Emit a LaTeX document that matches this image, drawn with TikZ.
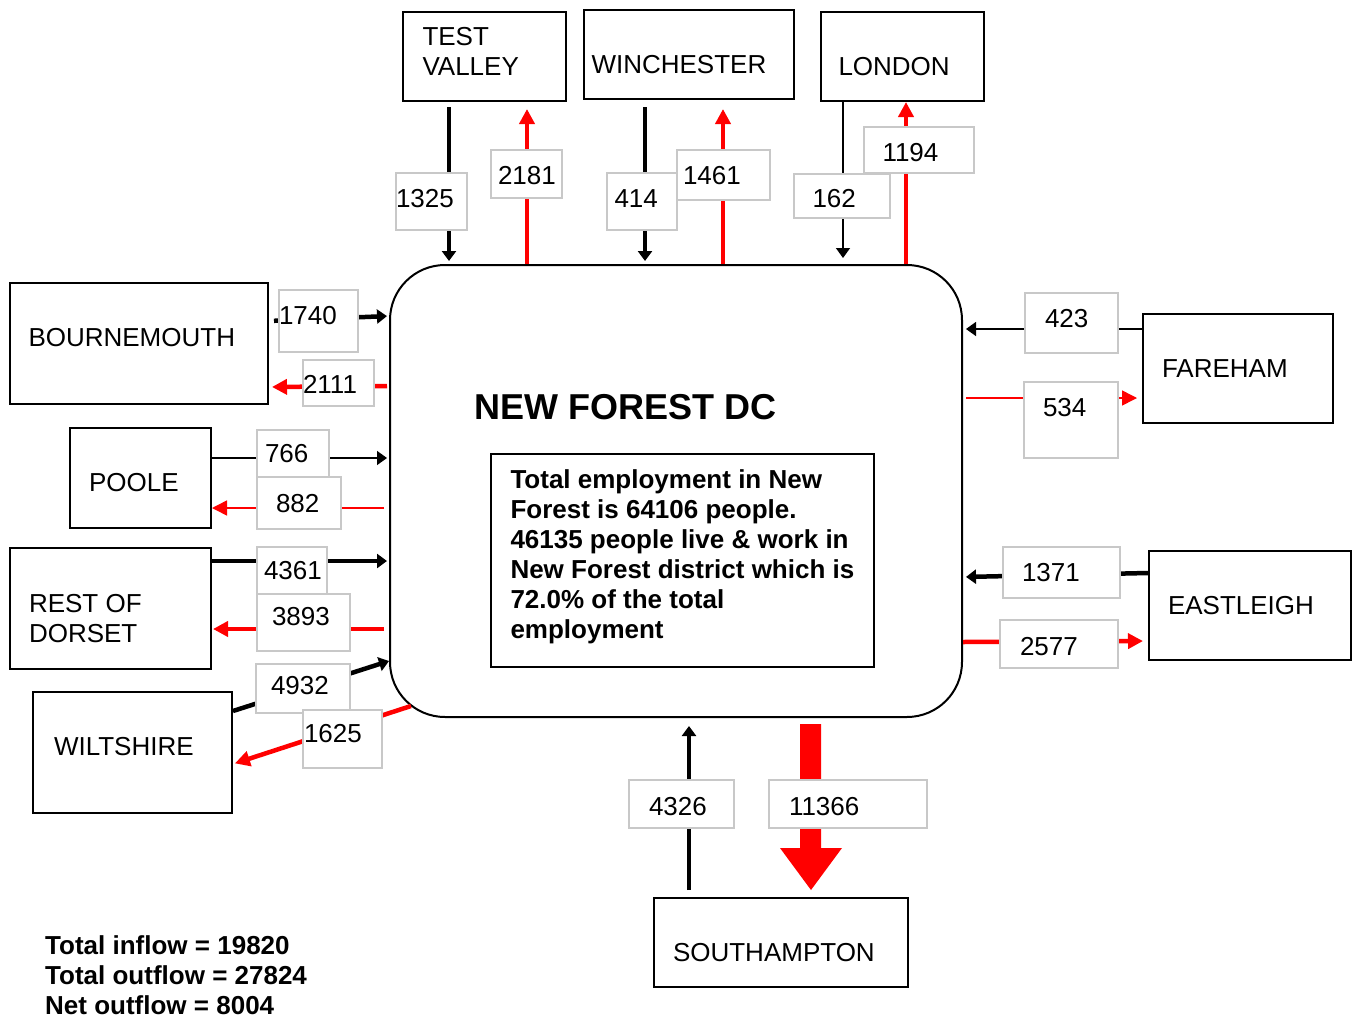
\documentclass[tikz,border=0pt]{standalone}
\usepackage{fontspec}
\setmainfont{Liberation Sans}
\usetikzlibrary{arrows.meta}
\definecolor{labgray}{RGB}{200,200,200}
% style, name, x1, y1, x2, y2, text pad, baseline, text
\newcommand\bx[9]{\node[#1, anchor=north west, inner sep=0pt, text height={(#8-#4)}, text depth={(#6-#8)}] (#2) at (#3,#4) {\makebox[\dimexpr#5pt-#3pt\relax][l]{\hspace*{#7pt}#9}};}
\tikzset{
 mainbox/.style={draw=black, line width=2pt, fill=white, font=\fontsize{26}{30}\selectfont},
 numbox/.style={draw=labgray, line width=2pt, fill=white, font=\fontsize{26}{30}\selectfont},
 thickblk/.style={line width=4.5pt, -{Triangle[length=10pt,width=14pt]}},
 thinblk/.style={line width=1.5pt, -{Triangle[length=10pt,width=14pt]}},
 thickred/.style={red, line width=4.5pt, -{Triangle[length=15pt,width=15pt]}},
 thinred/.style={red, line width=1.5pt, -{Triangle[length=15pt,width=15pt]}},
}
\begin{document}
\begin{tikzpicture}[x=1pt,y=-1pt]
\useasboundingbox (0,0) rectangle (1353,1018);
% central district
\node[draw, line width=2pt, rounded corners=55pt, minimum width=572pt, minimum height=452pt, inner sep=0pt] (nf) at (676,491) {};
\node[anchor=base west, inner sep=0pt, font=\fontsize{36}{40}\selectfont\bfseries] (title) at (474,419) {NEW FOREST DC};
\bx{mainbox}{txt}{490}{453}{873}{666}{19.5}{487}{\bfseries\begin{tabular}[t]{@{}l@{}}Total employment in New\\Forest is 64106 people.\\46135 people live \& work in\\New Forest district which is\\72.0\% of the total\\employment\end{tabular}}
% surrounding areas
\bx{mainbox}{tv}{402}{11}{565}{100}{19.5}{44}{\begin{tabular}[t]{@{}l@{}}TEST\\VALLEY\end{tabular}}
\bx{mainbox}{wi}{583}{9}{793}{98}{7.5}{72}{WINCHESTER}
\bx{mainbox}{lo}{820}{11}{983}{100}{17.5}{74}{LONDON}
\bx{mainbox}{bm}{9}{282}{267}{403}{18.5}{345}{BOURNEMOUTH}
\bx{mainbox}{po}{69}{427}{210}{527}{19}{490}{POOLE}
\bx{mainbox}{rd}{9}{547}{210}{668}{19}{611}{\begin{tabular}[t]{@{}l@{}}REST OF\\DORSET\end{tabular}}
\bx{mainbox}{wt}{32}{691}{231}{812}{21}{754}{WILTSHIRE}
\bx{mainbox}{fa}{1142}{313}{1332}{422}{19}{376}{FAREHAM}
\bx{mainbox}{ea}{1148}{550}{1350}{659}{19}{613}{EASTLEIGH}
\bx{mainbox}{so}{653}{897}{907}{986}{19}{960}{SOUTHAMPTON}
% top flows
\draw[thickblk, shorten <=5pt, shorten >=3pt] (tv.south -| 449,0) -- (nf.north -| 449,0);
\draw[thickred, shorten >=7pt] (nf.north -| 527,0) -- (tv.south -| 527,0);
\draw[thickblk, shorten <=7pt, shorten >=3pt] (wi.south -| 645,0) -- (nf.north -| 645,0);
\draw[thickred, shorten >=9pt] (nf.north -| 723,0) -- (wi.south -| 723,0);
\draw[thinblk, shorten >=6pt] (lo.south -| 843,0) -- (nf.north -| 843,0);
\draw[thickred] (nf.north -| 906,0) -- (lo.south -| 906,0);
% left flows
\draw[thickblk, shorten <=5pt, shorten >=2pt] (bm.east |- 0,321) -- (nf.west |- 0,316);
\draw[thickred, shorten <=2pt, shorten >=3pt] (nf.west |- 0,386) -- (bm.east |- 0,387);
\draw[thinblk, shorten >=2pt] (po.east |- 0,458) -- (nf.west |- 0,458);
\draw[thinred, shorten <=5pt] (nf.west |- 0,508) -- (po.east |- 0,508);
\draw[thickblk, shorten >=2pt] (rd.east |- 0,561) -- (nf.west |- 0,561);
\draw[thickred, shorten <=5pt, shorten >=1pt] (nf.west |- 0,629) -- (rd.east |- 0,629);
\draw[thickblk] (wt.east |- 0,711) -- (nf.west |- 0,661);
\draw[thickred, shorten >=2pt] ([xshift=22pt,yshift=12pt]nf.south west) -- (wt.east |- 0,764);
% right flows
\draw[thinblk, shorten >=3pt] (fa.west |- 0,329) -- (nf.east |- 0,329);
\draw[thinred, shorten <=3pt, shorten >=5pt] (nf.east |- 0,398) -- (fa.west |- 0,398);
\draw[thickblk, shorten >=3pt] (ea.west |- 0,573) -- (nf.east |- 0,577);
\draw[thickred, shorten >=5pt] (nf.east |- 0,642) -- (ea.west |- 0,641);
% bottom flows
\draw[thickblk, shorten <=7pt, shorten >=8pt] (so.north -| 689,0) -- (nf.south -| 689,0);
\fill[red] (800,724) -- (821,724) -- (821,848) -- (842,848) -- (811,890) -- (780,848) -- (800,848) -- cycle;
% flow labels
\bx{numbox}{l1325}{395}{172}{466}{229}{0}{206}{1325}
\bx{numbox}{l2181}{490}{149}{561}{197}{7}{183}{2181}
\bx{numbox}{l414}{606}{172}{676}{229}{7.5}{206}{414}
\bx{numbox}{l1461}{676}{149}{769}{199}{6}{183}{1461}
\bx{numbox}{l162}{793}{173}{889}{217}{18.5}{206}{162}
\bx{numbox}{l1194}{863}{126}{973}{172}{18.5}{160}{1194}
\bx{numbox}{l1740}{278}{289}{357}{351}{0}{323}{1740}
\bx{numbox}{l2111}{302}{359}{373}{405}{0}{392}{2111}
\bx{numbox}{l766}{256}{429}{328}{477}{8}{461}{766}
\bx{numbox}{l882}{256}{476}{340}{528}{19}{511}{882}
\bx{numbox}{l4361}{256}{546}{326}{593}{7}{578}{4361}
\bx{numbox}{l3893}{256}{593}{349}{650}{15}{624}{3893}
\bx{numbox}{l4932}{255}{663}{349}{712}{15}{693}{4932}
\bx{numbox}{l1625}{302}{709}{381}{767}{1}{741}{1625}
\bx{numbox}{l423}{1024}{292}{1117}{352}{20}{326}{423}
\bx{numbox}{l534}{1023}{381}{1117}{457}{19}{415}{534}
\bx{numbox}{l1371}{1002}{546}{1119}{597}{19}{580}{1371}
\bx{numbox}{l2577}{999}{619}{1117}{667}{20}{654}{2577}
\bx{numbox}{l4326}{628}{779}{733}{827}{20}{814}{4326}
\bx{numbox}{l11366}{768}{779}{926}{827}{20}{814}{11366}
% totals
\node[anchor=base west, inner sep=0pt, font=\fontsize{26}{30}\selectfont\bfseries] (totals) at (45,954) {\begin{tabular}[t]{@{}l@{}}Total inflow = 19820\\Total outflow = 27824\\Net outflow = 8004\end{tabular}};
\end{tikzpicture}
\end{document}
